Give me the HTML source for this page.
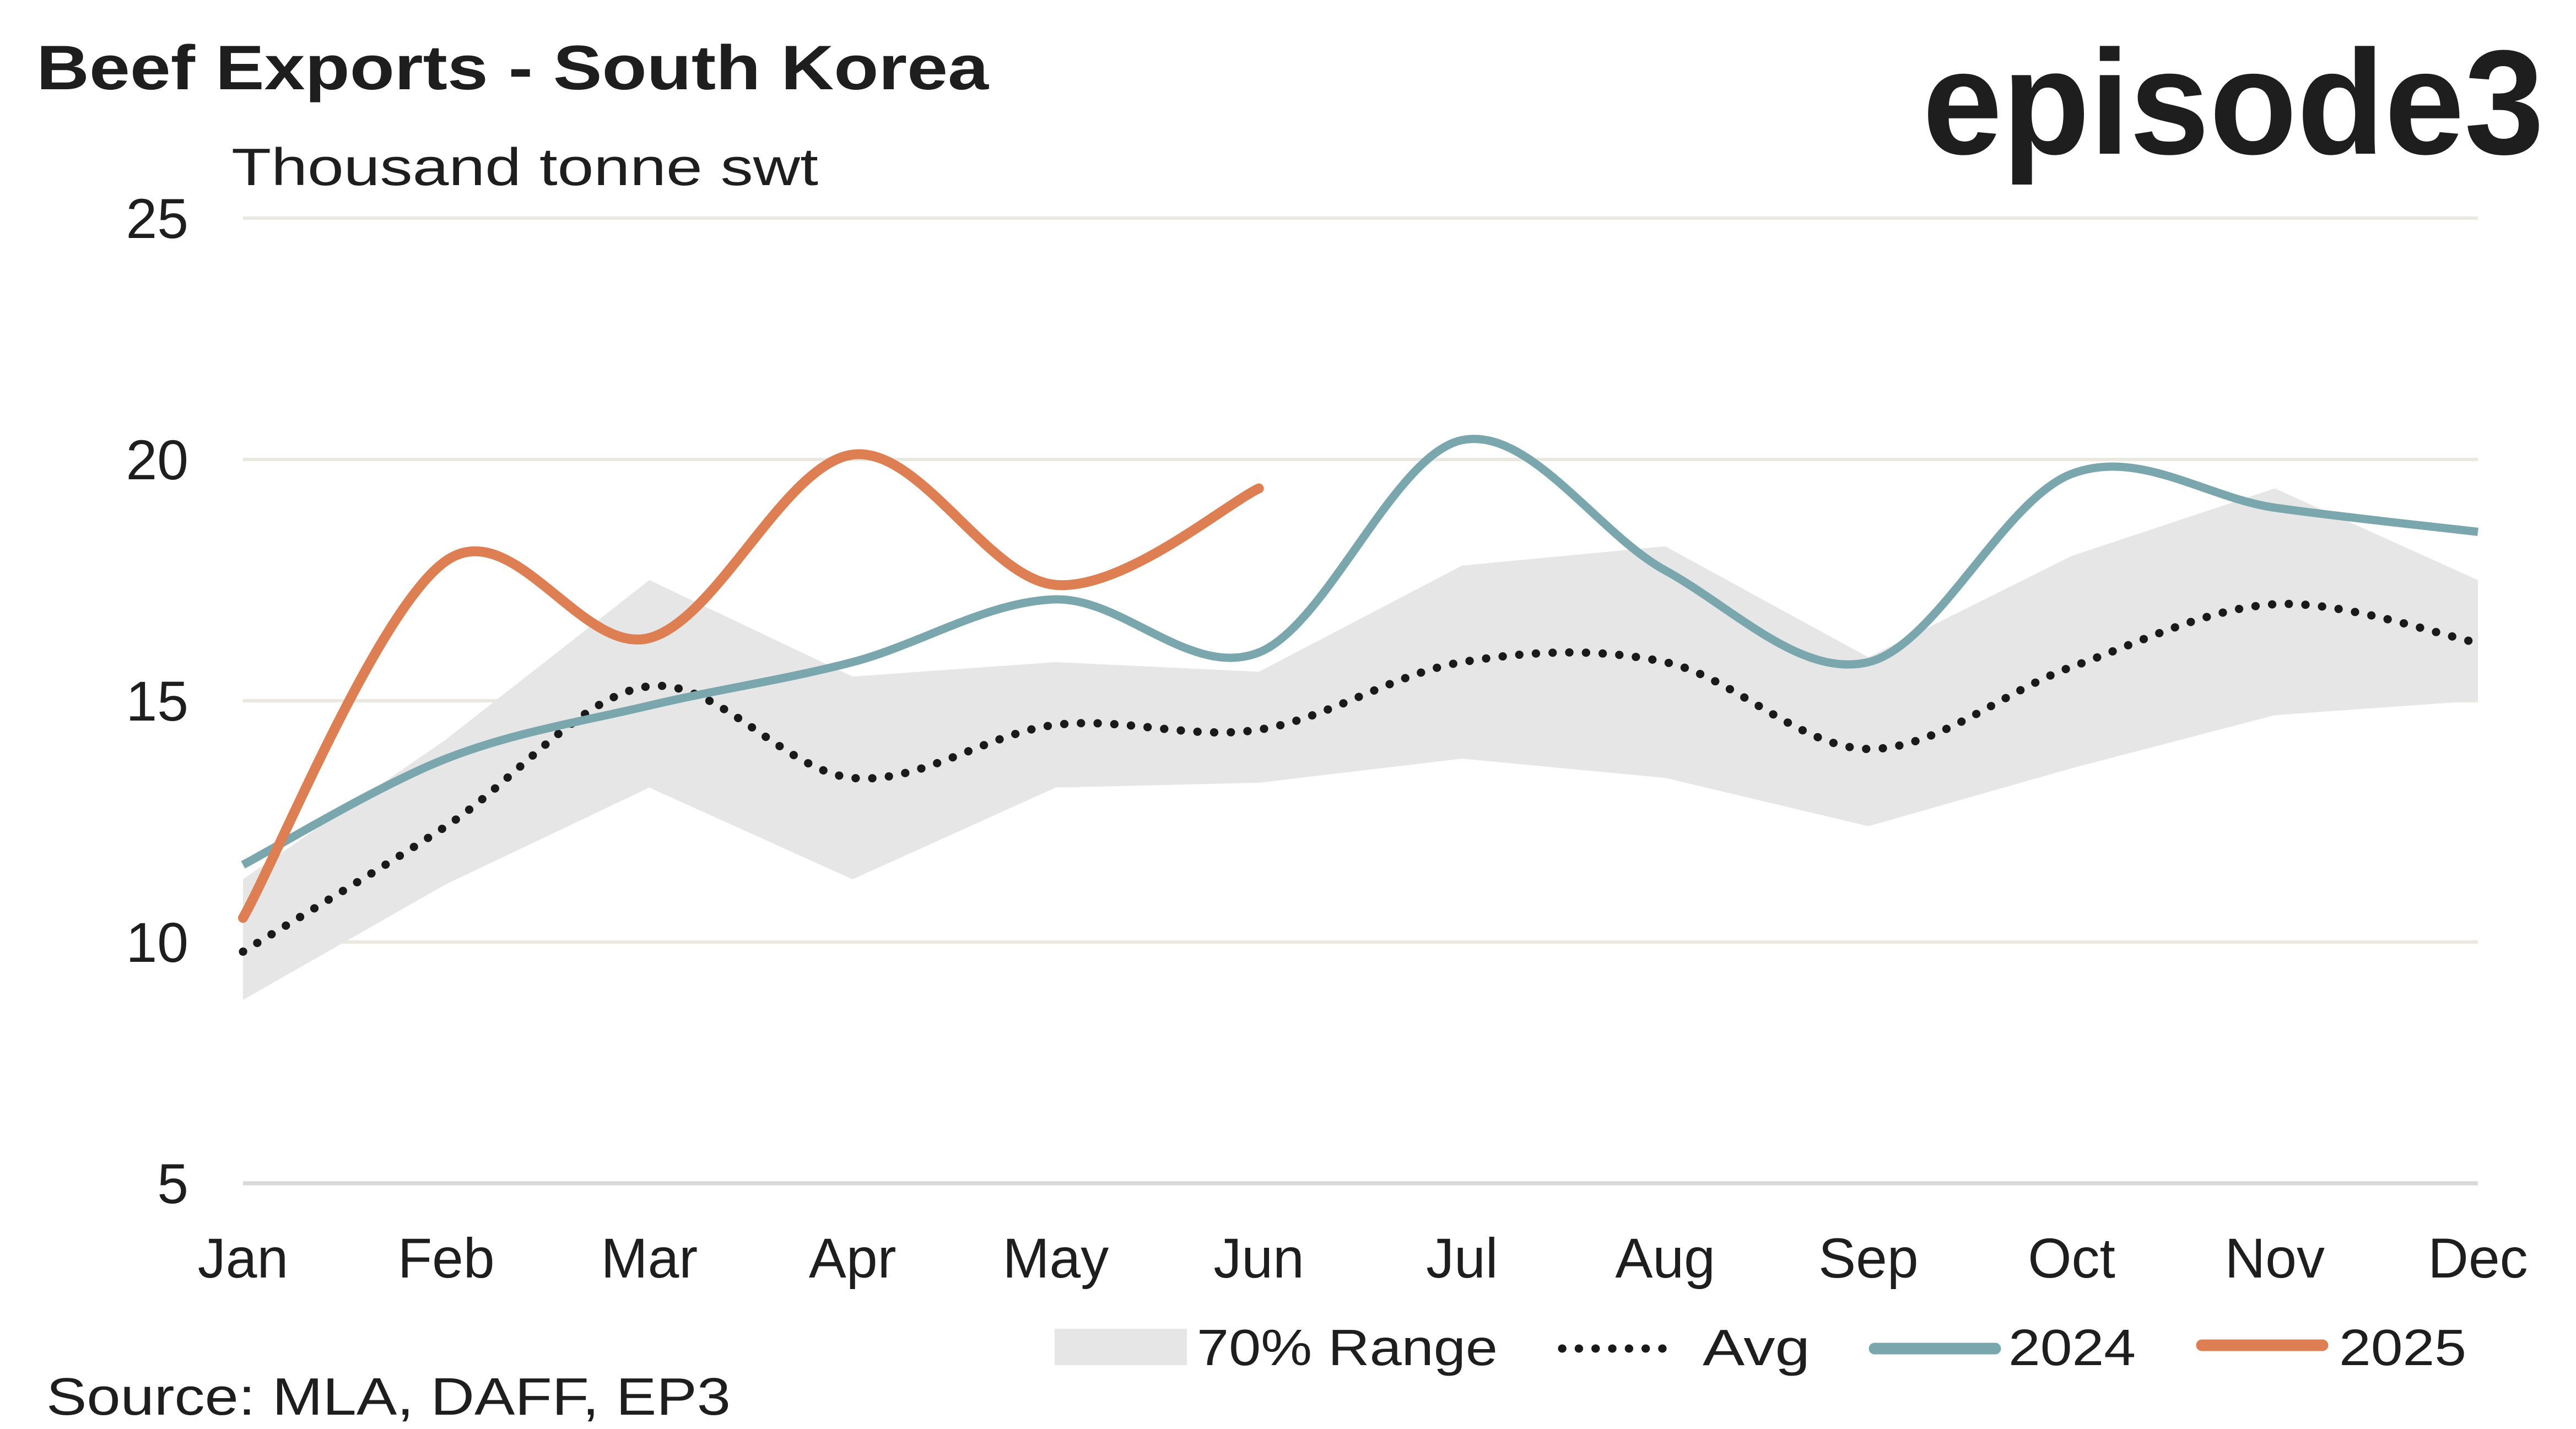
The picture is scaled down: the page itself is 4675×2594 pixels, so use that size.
<!DOCTYPE html>
<html><head><meta charset="utf-8"><style>
html,body{margin:0;padding:0;background:#fff;}
svg{display:block;}
text{font-family:"Liberation Sans",sans-serif;fill:#1e1e1e;}
</style></head><body>
<svg id="chart" width="4675" height="2594" viewBox="0 0 1558.33 864.67" xmlns="http://www.w3.org/2000/svg">
<text x="22" y="54" font-size="38" font-weight="bold" textLength="576" lengthAdjust="spacingAndGlyphs">Beef Exports - South Korea</text>
<text x="1163" y="93" font-size="90" font-weight="bold" textLength="376" lengthAdjust="spacingAndGlyphs">episode3</text>
<text x="140" y="112" font-size="32" textLength="355" lengthAdjust="spacingAndGlyphs">Thousand tonne swt</text>
<g id="grid"></g>
<g id="marks"></g>
<g id="legend">
<rect x="638" y="804" width="80" height="22" fill="#e6e6e6"/>
<text x="724" y="826" font-size="31" textLength="182" lengthAdjust="spacingAndGlyphs">70% Range</text>
<line x1="945" y1="816" x2="1015" y2="816" stroke="#1a1a1a" stroke-width="5" stroke-dasharray="0.1 10" stroke-linecap="round"/>
<text x="1030" y="826" font-size="31" textLength="65" lengthAdjust="spacingAndGlyphs">Avg</text>
<line x1="1134" y1="816" x2="1207" y2="816" stroke="#7aa7ad" stroke-width="7" stroke-linecap="round"/>
<text x="1215" y="826" font-size="31" textLength="77" lengthAdjust="spacingAndGlyphs">2024</text>
<line x1="1332" y1="814" x2="1405" y2="814" stroke="#dd7f52" stroke-width="7" stroke-linecap="round"/>
<text x="1415" y="826" font-size="31" textLength="77" lengthAdjust="spacingAndGlyphs">2025</text>
</g>
<text x="28" y="856" font-size="32" textLength="414" lengthAdjust="spacingAndGlyphs">Source: MLA, DAFF, EP3</text>
</svg>
<script>
const months=["Jan","Feb","Mar","Apr","May","Jun","Jul","Aug","Sep","Oct","Nov","Dec"];
const yTicks=[5,10,15,20,25];
const rangeHigh=[11.3,14.2,17.5,15.5,15.8,15.6,17.8,18.2,15.9,18.0,19.4,17.5];
const rangeLow=[8.8,11.2,13.2,11.3,13.2,13.3,13.8,13.4,12.4,13.6,14.7,15.0];
const avg=[9.8,12.4,15.3,13.4,14.5,14.4,15.8,15.8,14.0,15.7,17.0,16.2];
const s2024=[11.6,13.8,14.9,15.8,17.1,16.0,20.4,17.7,15.8,19.7,19.0,18.5];
const s2025=[10.5,17.9,16.3,20.1,17.4,19.4];
const NS="http://www.w3.org/2000/svg";
const X0=147,X1=1499,Y0=716,Y1=132;
function x(i){return X0+i*(X1-X0)/11;}
function y(v){return Y0-(v-5)*(Y0-Y1)/20;}
function mk(tag,attrs,parent){const e=document.createElementNS(NS,tag);for(const k in attrs)e.setAttribute(k,attrs[k]);parent.appendChild(e);return e;}
const grid=document.getElementById('grid'),marks=document.getElementById('marks');
yTicks.forEach(t=>{
  const l=mk('line',{x1:X0,x2:X1,y1:y(t),y2:y(t),stroke:t===5?'#d9d9d9':'#ebe9df','stroke-width':t===5?2.5:2},grid);
  
  
  const tx=mk('text',{x:114,y:y(t)+12,'font-size':34,'text-anchor':'end'},grid);tx.textContent=t;
  
  
});
months.forEach((m,i)=>{
  const tx=mk('text',{x:x(i),y:773,'font-size':34,'text-anchor':'middle'},grid);tx.textContent=m;
  
  
});
let d='M'+rangeHigh.map((v,i)=>x(i)+','+y(v)).join('L');
for(let i=rangeLow.length-1;i>=0;i--)d+='L'+x(i)+','+y(rangeLow[i]);
const area=mk('path',{d:d+'Z',fill:'#e6e6e6'},marks);


function smooth(vals){
  const p=vals.map((v,i)=>[x(i),y(v)]);let s='M'+p[0];
  for(let i=0;i<p.length-1;i++){
    const p0=p[Math.max(i-1,0)],p1=p[i],p2=p[i+1],p3=p[Math.min(i+2,p.length-1)],t=1/6;
    s+='C'+(p1[0]+(p2[0]-p0[0])*t)+','+(p1[1]+(p2[1]-p0[1])*t)+' '+(p2[0]-(p3[0]-p1[0])*t)+','+(p2[1]-(p3[1]-p1[1])*t)+' '+p2[0]+','+p2[1];
  }
  return s;
}
const a=mk('path',{d:smooth(avg),fill:'none',stroke:'#1a1a1a','stroke-width':5,'stroke-dasharray':'0.1 10','stroke-linecap':'round'},marks);


const l24=mk('path',{d:smooth(s2024),fill:'none',stroke:'#7aa7ad','stroke-width':5},marks);


const l25=mk('path',{d:smooth(s2025),fill:'none',stroke:'#dd7f52','stroke-width':6,'stroke-linecap':'round'},marks);


</script>
</body></html>
